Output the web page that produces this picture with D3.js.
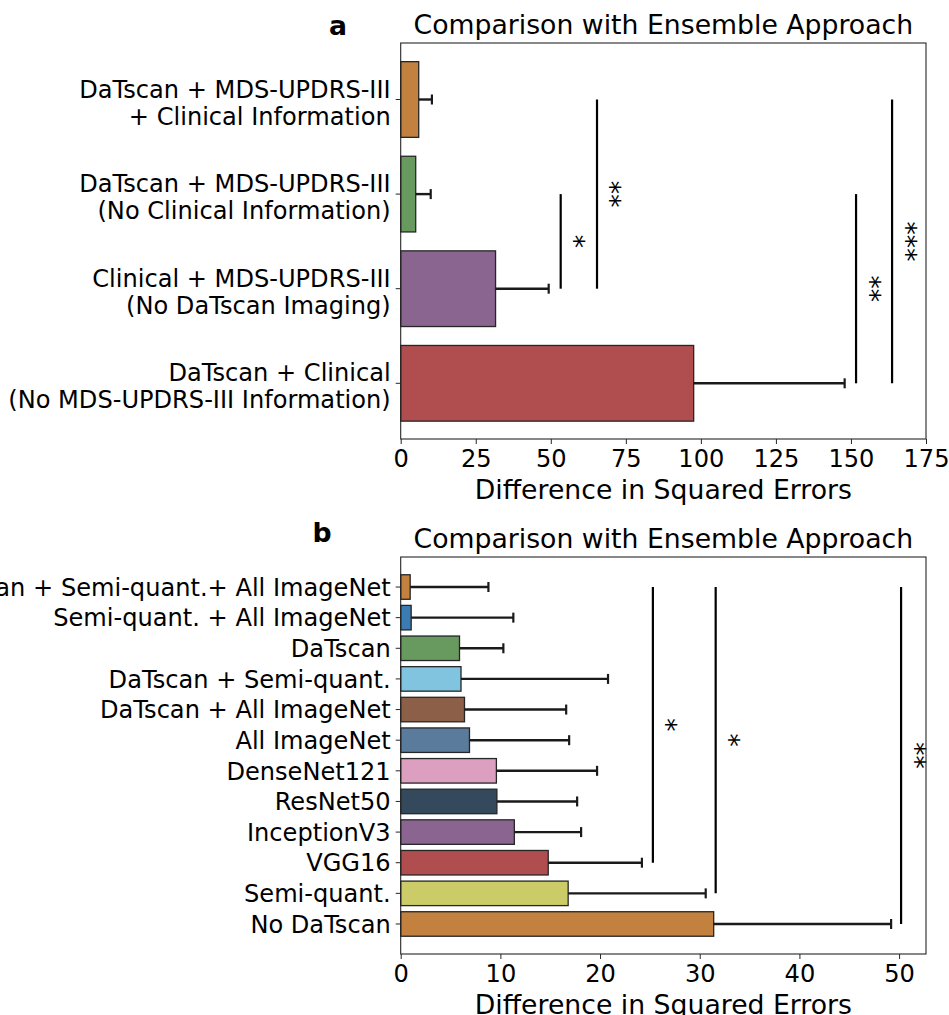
<!DOCTYPE html>
<html>
<head>
<meta charset="utf-8">
<script src="https://cdn.jsdelivr.net/npm/d3@7"></script>
<style>
  body { margin: 0; background: #fff; }
  text { font-family: "DejaVu Sans", sans-serif; fill: #000; }
</style>
</head>
<body>
<div id="chart"></div>
<script>
// panel a data
var catsA = [
    'DaTscan + MDS-UPDRS-III\n+ Clinical Information',
    'DaTscan + MDS-UPDRS-III\n(No Clinical Information)',
    'Clinical + MDS-UPDRS-III\n(No DaTscan Imaging)',
    'DaTscan + Clinical\n(No MDS-UPDRS-III Information)'
];
var valsA = [6.0, 5.0, 31.6, 97.6];
var hiA = [10.4, 10.0, 49.3, 147.9];
var ticksA = [0, 25, 50, 75, 100, 125, 150, 175];
var sigXA = [53.3, 65.4, 151.7, 163.7];
var sigFromA = [1, 0, 1, 0];
var sigToA = [2, 2, 3, 3];
var sigLabA = ['*', '**', '**', '***'];

// panel b data
var catsB = [
    'DaTscan + Semi-quant.+ All ImageNet',
    'Semi-quant. + All ImageNet',
    'DaTscan',
    'DaTscan + Semi-quant.',
    'DaTscan + All ImageNet',
    'All ImageNet',
    'DenseNet121',
    'ResNet50',
    'InceptionV3',
    'VGG16',
    'Semi-quant.',
    'No DaTscan'
];
var valsB = [0.95, 1.05, 5.9, 6.05, 6.4, 6.9, 9.6, 9.65, 11.4, 14.8, 16.8, 31.4];
var hiB = [8.8, 11.3, 10.3, 20.8, 16.6, 16.9, 19.7, 17.7, 18.1, 24.2, 30.6, 49.2];
var ticksB = [0, 10, 20, 30, 40, 50];
var sigXB = [25.3, 31.6, 50.2];
var sigFromB = [0, 0, 0];
var sigToB = [9, 10, 11];
var sigLabB = ['*', '*', '**'];

// colours
var colorsA = ['#c2813e', '#68995f', '#8a6590', '#b04e4f'];
var colorsB = ['#c2813e', '#3b7db3', '#68995f', '#81c4e0', '#8c5f48', '#5a7b9b',
    '#dc9fc0', '#34495b', '#8a6590', '#b04e4f', '#cbcc67', '#c2813e'];

var svgWidth = 949;
var svgHeight = 1015;
var tickFont = 24.1;
var bigFont = 26.7;
var plotLeft = 400.7;
var plotRight = 926;

var svg = d3.select('#chart')
    .append('svg')
    .attr('width', svgWidth)
    .attr('height', svgHeight);

function drawPanel(p) {
    var n = p.cats.length;
    var g = svg.append('g');

    var x = d3.scaleLinear()
        .domain([0, p.xMax])
        .range([plotLeft, plotRight]);

    var y = d3.scaleBand()
        .domain(d3.range(n))
        .range([p.bandTop, p.bandBottom])
        .paddingInner(0.2)
        .paddingOuter(0.1);

    var mid = function(i) { return y(i) + y.bandwidth() / 2; };

    // bars
    g.selectAll('rect.bar')
        .data(p.vals)
        .enter()
        .append('rect')
        .attr('class', 'bar')
        .attr('x', x(0))
        .attr('y', (d, i) => y(i))
        .attr('width', d => x(d) - x(0))
        .attr('height', y.bandwidth())
        .attr('fill', (d, i) => p.colors[i])
        .attr('stroke', '#262626')
        .attr('stroke-width', 1.3);

    // error bars
    var err = g.selectAll('g.err')
        .data(p.vals)
        .enter()
        .append('g');
    err.append('line')
        .attr('x1', d => x(d))
        .attr('x2', (d, i) => x(p.hi[i]))
        .attr('y1', (d, i) => mid(i))
        .attr('y2', (d, i) => mid(i))
        .attr('stroke', '#1a1a1a')
        .attr('stroke-width', 2.4);
    err.append('line')
        .attr('x1', (d, i) => x(p.hi[i]))
        .attr('x2', (d, i) => x(p.hi[i]))
        .attr('y1', (d, i) => mid(i) - 5)
        .attr('y2', (d, i) => mid(i) + 5)
        .attr('stroke', '#1a1a1a')
        .attr('stroke-width', 2.2);

    // significance lines
    p.sigX.forEach(function(sx, k) {
        var y1 = mid(p.sigFrom[k]);
        var y2 = mid(p.sigTo[k]);
        g.append('line')
            .attr('x1', x(sx)).attr('x2', x(sx))
            .attr('y1', y1).attr('y2', y2)
            .attr('stroke', '#000')
            .attr('stroke-width', 2.2);
        var cx = x(sx) + 17 + 0.58 * bigFont;
        var cy = (y1 + y2) / 2;
        g.append('text')
            .attr('transform', `translate(${cx}, ${cy}) rotate(-90)`)
            .attr('text-anchor', 'middle')
            .style('font-size', bigFont + 'px')
            .text(p.sigLab[k]);
    });

    // x axis
    var bottomAxis = d3.axisBottom(x)
        .tickValues(p.ticks)
        .tickSize(5)
        .tickSizeOuter(0)
        .tickPadding(5.6);
    var xAxis = g.append('g')
        .attr('transform', `translate(0, ${p.bottom})`)
        .call(bottomAxis);
    xAxis.select('.domain').remove();
    xAxis.selectAll('line').attr('stroke', '#262626').attr('stroke-width', 1);
    xAxis.selectAll('text')
        .style('font-size', tickFont + 'px')
        .style('font-family', '"DejaVu Sans", sans-serif')
        .attr('fill', '#000');

    // y axis
    var leftAxis = d3.axisLeft(y)
        .tickSize(5)
        .tickSizeOuter(0)
        .tickPadding(5)
        .tickFormat(i => p.cats[i]);
    var yAxis = g.append('g')
        .attr('transform', `translate(${plotLeft}, 0)`)
        .call(leftAxis);
    yAxis.select('.domain').remove();
    yAxis.selectAll('line').attr('stroke', '#262626').attr('stroke-width', 1);
    yAxis.selectAll('text')
        .style('font-size', tickFont + 'px')
        .style('font-family', '"DejaVu Sans", sans-serif')
        .attr('fill', '#000')
        .each(function(i) {
            var t = d3.select(this);
            var lines = p.cats[i].split('\n');
            if (lines.length === 1) {
                t.attr('dy', '0.36em');
                return;
            }
            t.text(null).attr('dy', null);
            lines.forEach(function(s, j) {
                t.append('tspan')
                    .attr('x', -10)
                    .attr('dy', j === 0 ? '-0.08em' : '1.12em')
                    .text(s);
            });
        });

    // frame
    g.append('rect')
        .attr('x', plotLeft)
        .attr('y', p.top)
        .attr('width', plotRight - plotLeft)
        .attr('height', p.bottom - p.top)
        .attr('fill', 'none')
        .attr('stroke', '#262626')
        .attr('stroke-width', 1.1);

    // title, axis label, panel letter
    g.append('text')
        .attr('x', (plotLeft + plotRight) / 2)
        .attr('y', p.top - 9)
        .attr('text-anchor', 'middle')
        .style('font-size', bigFont + 'px')
        .text('Comparison with Ensemble Approach');

    g.append('text')
        .attr('x', (plotLeft + plotRight) / 2)
        .attr('y', p.bottom + 60.4)
        .attr('text-anchor', 'middle')
        .style('font-size', bigFont + 'px')
        .text('Difference in Squared Errors');

    g.append('text')
        .attr('x', p.letterX)
        .attr('y', p.letterY)
        .attr('text-anchor', 'middle')
        .style('font-size', bigFont + 'px')
        .style('font-weight', 'bold')
        .text(p.letter);
}

drawPanel({
    cats: catsA, vals: valsA, hi: hiA, colors: colorsA,
    sigX: sigXA, sigFrom: sigFromA, sigTo: sigToA, sigLab: sigLabA,
    xMax: 175, ticks: ticksA,
    top: 43, bottom: 439, bandTop: 52.2, bandBottom: 430.6,
    letter: 'a', letterX: 338, letterY: 35
});

drawPanel({
    cats: catsB, vals: valsB, hi: hiB, colors: colorsB,
    sigX: sigXB, sigFrom: sigFromB, sigTo: sigToB, sigLab: sigLabB,
    xMax: 52.7, ticks: ticksB,
    top: 557, bottom: 954, bandTop: 571.7, bandBottom: 939.3,
    letter: 'b', letterX: 322, letterY: 542
});
</script>
</body>
</html>
